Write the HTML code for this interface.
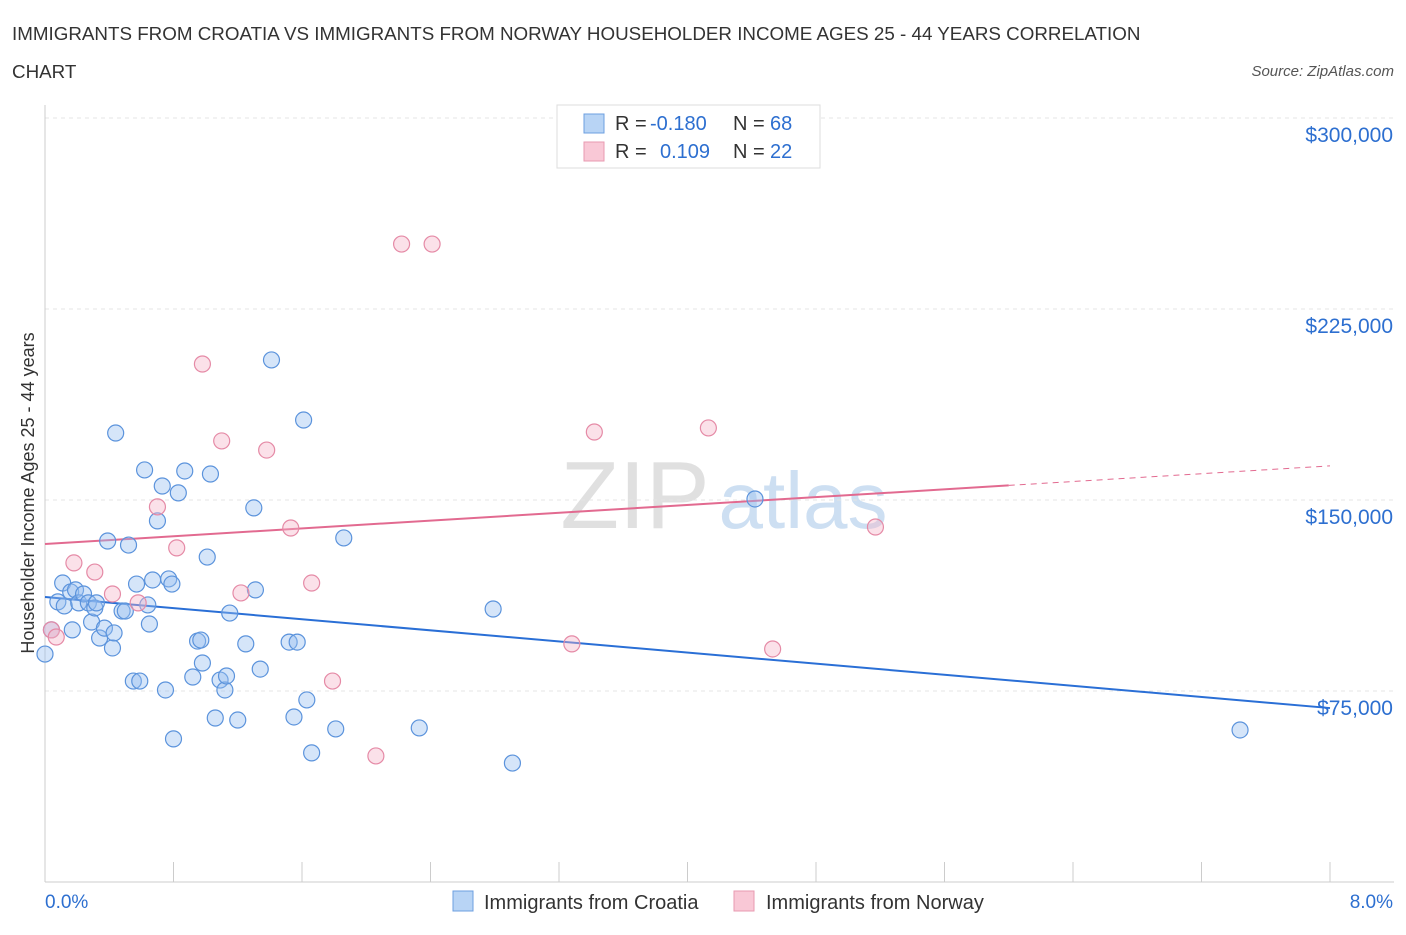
<!DOCTYPE html>
<html><head><meta charset="utf-8"><style>
body{margin:0;background:#fff;font-family:"Liberation Sans",sans-serif;}
svg text{font-family:"Liberation Sans",sans-serif;}
</style></head><body>
<svg id="chart" width="1406" height="930">
<text x="12" y="40" font-size="18.8" fill="#333">IMMIGRANTS FROM CROATIA VS IMMIGRANTS FROM NORWAY HOUSEHOLDER INCOME AGES 25 - 44 YEARS CORRELATION</text>
<text x="12" y="78" font-size="18.8" fill="#333">CHART</text>
<text x="1394" y="76" font-size="15" fill="#555" text-anchor="end" font-style="italic">Source: ZipAtlas.com</text>
<text x="635" y="528" font-size="96" fill="#e0e0e0" text-anchor="middle" font-family="Liberation Serif">ZIP</text>
<text x="803" y="528" font-size="80" fill="#cddff2" text-anchor="middle">atlas</text>
<g id="grid"></g><g id="axes"></g><g id="trends"></g><g id="points"></g>
<text transform="translate(34,493) rotate(-90)" font-size="18" fill="#333" text-anchor="middle">Householder Income Ages 25 - 44 years</text>
<g>
<rect x="557" y="105" width="263" height="63" fill="#fff" stroke="#ddd"/>
<rect x="584" y="114" width="20" height="19" fill="#b8d4f5" stroke="#6c9fe0"/>
<rect x="584" y="142" width="20" height="19" fill="#f9c8d6" stroke="#e89ab0"/>
<text x="615" y="130" font-size="20" fill="#333">R =</text>
<text x="650" y="130" font-size="20" fill="#2d6fd0">-0.180</text>
<text x="733" y="130" font-size="20" fill="#333">N =</text>
<text x="770" y="130" font-size="20" fill="#2d6fd0">68</text>
<text x="615" y="158" font-size="20" fill="#333">R =</text>
<text x="660" y="158" font-size="20" fill="#2d6fd0">0.109</text>
<text x="733" y="158" font-size="20" fill="#333">N =</text>
<text x="770" y="158" font-size="20" fill="#2d6fd0">22</text>
</g>
<g>
<rect x="453" y="891" width="20" height="20" fill="#b8d4f5" stroke="#6c9fe0"/>
<text x="484" y="909" font-size="20" fill="#333">Immigrants from Croatia</text>
<rect x="734" y="891" width="20" height="20" fill="#f9c8d6" stroke="#e89ab0"/>
<text x="766" y="909" font-size="20" fill="#333">Immigrants from Norway</text>
</g>
</svg>
<script>
const yTicks=[75000,150000,225000,300000];
const yTickLabels=["$75,000","$150,000","$225,000","$300,000"];
const xTicks=[0,0.8,1.6,2.4,3.2,4,4.8,5.6,6.4,7.2,8];
const croatiaX=[0.00,0.04,0.08,0.11,0.12,0.16,0.17,0.19,0.21,0.24,0.27,0.29,0.31,0.32,0.34,0.37,0.39,0.42,0.43,0.44,0.48,0.50,0.52,0.55,0.57,0.59,0.62,0.64,0.65,0.67,0.70,0.73,0.75,0.77,0.79,0.80,0.83,0.87,0.92,0.95,0.97,0.98,1.03,1.01,1.06,1.09,1.12,1.13,1.15,1.20,1.25,1.30,1.31,1.34,1.41,1.52,1.55,1.57,1.61,1.63,1.66,1.81,1.86,2.33,2.79,2.91,4.42,7.44];
const croatiaY=[89500,99000,110000,117400,108400,113900,99000,114700,109600,113100,109600,102100,107600,109600,95800,99700,133900,91900,97800,176300,106400,106400,132300,78900,117000,78900,161800,108800,101300,118600,141800,155500,75400,119000,117000,56200,152800,161400,80500,94600,95000,86000,160200,127600,64400,79300,75400,80900,105600,63600,93500,146900,114700,83600,205000,94200,64800,94200,181400,71500,50700,60100,135100,60500,107200,46700,150400,59700];
const norwayX=[0.04,0.07,0.18,0.31,0.42,0.58,0.70,0.82,0.98,1.10,1.22,1.38,1.53,1.66,1.79,2.06,2.22,2.41,3.28,3.42,4.13,4.53,5.17];
const norwayY=[99000,96200,125300,121700,113100,109600,147300,131200,203400,173200,113500,169600,139000,117400,78900,49500,250500,250500,93500,176700,178300,91500,139400];
const croatiaTrend=[111900,68300];
const norwayTrend=[132700,163400];
const norwaySolidEnd=6.0;
const NS="http://www.w3.org/2000/svg";
const X=v=>45+v/8*1285, Y=v=>882-v/75000*191;
function mk(t,a,p){const e=document.createElementNS(NS,t);for(const k in a)e.setAttribute(k,a[k]);document.getElementById(p).appendChild(e);return e;}
yTicks.forEach((t,i)=>{
 const g=mk('line',{x1:45,x2:1394,y1:Y(t),y2:Y(t),stroke:'#e4e4e4','stroke-dasharray':'4,4'},'grid');
 
 
 const l=mk('text',{x:1393,y:Y(t)+24,'font-size':21,fill:'#2d6fd0','text-anchor':'end'},'axes');
 l.textContent=yTickLabels[i];
 
 
});
const tg=mk('line',{x1:45,x2:1394,y1:118,y2:118,stroke:'#e4e4e4','stroke-dasharray':'4,4'},'grid');


const ya=mk('line',{x1:45,x2:45,y1:105,y2:882,stroke:'#ccc'},'axes');


const xa=mk('line',{x1:45,x2:1394,y1:882,y2:882,stroke:'#ccc'},'axes');


xTicks.forEach(t=>{const k=mk('line',{x1:X(t),x2:X(t),y1:862,y2:882,stroke:'#ccc'},'axes');
 
 });
const x0=mk('text',{x:45,y:908,'font-size':19,fill:'#2d6fd0'},'axes');x0.textContent='0.0%';


const x1=mk('text',{x:1393,y:908,'font-size':19,fill:'#2d6fd0','text-anchor':'end'},'axes');x1.textContent='8.0%';


croatiaX.forEach((v,i)=>{const c=mk('circle',{cx:X(v),cy:Y(croatiaY[i]),r:8,fill:'rgba(150,190,240,0.4)',stroke:'#5b93dc','stroke-width':1.2},'points');
 
 });
norwayX.forEach((v,i)=>{const c=mk('circle',{cx:X(v),cy:Y(norwayY[i]),r:8,fill:'rgba(245,180,200,0.4)',stroke:'#e58aa6','stroke-width':1.2},'points');
 
 });
const bt=mk('line',{x1:X(0),y1:Y(croatiaTrend[0]),x2:X(8),y2:Y(croatiaTrend[1]),stroke:'#2a6fd6','stroke-width':2},'trends');


const ny=x=>norwayTrend[0]+(norwayTrend[1]-norwayTrend[0])*x/8;
const pt=mk('line',{x1:X(0),y1:Y(ny(0)),x2:X(norwaySolidEnd),y2:Y(ny(norwaySolidEnd)),stroke:'#e26a90','stroke-width':2},'trends');


const pd=mk('line',{x1:X(norwaySolidEnd),y1:Y(ny(norwaySolidEnd)),x2:X(8),y2:Y(ny(8)),stroke:'#e26a90','stroke-width':1,'stroke-dasharray':'6,5'},'trends');


</script>
</body></html>
